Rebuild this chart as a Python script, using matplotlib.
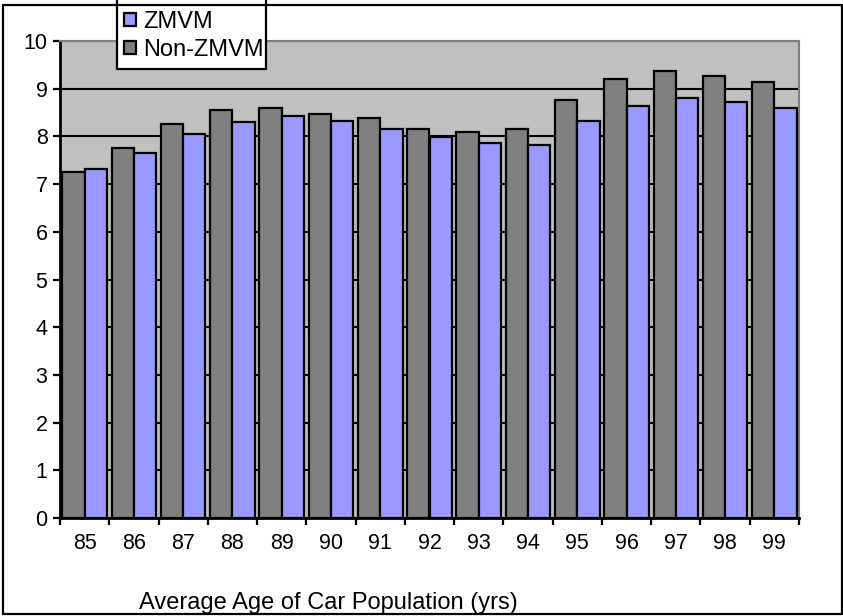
import matplotlib
matplotlib.use("Agg")
import matplotlib.pyplot as plt
from matplotlib.patches import Rectangle
import numpy as np

plt.rcParams['font.family'] = ['Liberation Sans', 'DejaVu Sans']

years = ["85", "86", "87", "88", "89", "90", "91", "92", "93", "94", "95", "96", "97", "98", "99"]
non_zmvm = [7.25, 7.75, 8.25, 8.55, 8.59, 8.48, 8.38, 8.15, 8.09, 8.15, 8.76, 9.20, 9.38, 9.27, 9.15]
zmvm = [7.31, 7.65, 8.04, 8.31, 8.42, 8.32, 8.15, 7.98, 7.86, 7.81, 8.32, 8.64, 8.81, 8.72, 8.60]
y_ticks = list(range(0, 11))
x_label = "Average Age of Car Population (yrs)"

W, H = 843, 616
fig = plt.figure(figsize=(W / 100, H / 100), dpi=100)
fig.patch.set_facecolor("white")

ax = fig.add_axes([60 / W, 1 - 518 / H, (799 - 60) / W, (518 - 41) / H])
ax.set_facecolor("#C0C0C0")

x = np.arange(len(years))
bw = 0.4525
ax.bar(x - bw / 2, non_zmvm, width=bw, color="#808080", edgecolor="black",
       linewidth=1.6, label="Non-ZMVM", zorder=3)
ax.bar(x + bw / 2, zmvm, width=bw, color="#9999FF", edgecolor="black",
       linewidth=1.6, label="ZMVM", zorder=3)

ax.set_xlim(-0.5, len(years) - 0.5)
ax.set_ylim(0, 10)
ax.set_yticks(y_ticks)
ax.yaxis.grid(True, color="black", linewidth=1.5, zorder=1)
ax.set_axisbelow(True)

# category boundary ticks (major) and labels at centres (minor)
ax.set_xticks(np.arange(-0.5, len(years), 1.0))
ax.set_xticklabels([])
ax.set_xticks(x, minor=True)
ax.set_xticklabels(years, minor=True)
ax.tick_params(axis="x", which="major", length=5, width=1.6, color="black", direction="out")
ax.tick_params(axis="x", which="minor", length=0, pad=11, labelsize=15.5)
ax.tick_params(axis="y", length=5, width=1.6, color="black", direction="out", pad=4, labelsize=15.5)

for s in ["left", "bottom"]:
    ax.spines[s].set_color("black")
    ax.spines[s].set_linewidth(2.0)
for s in ["top", "right"]:
    ax.spines[s].set_color("#808080")
    ax.spines[s].set_linewidth(1.5)

# legend box (top runs beyond figure edge)
fig.patches.append(Rectangle((117 / W, 1 - 69 / H), (266 - 117) / W, 80 / H,
                             transform=fig.transFigure, facecolor="white",
                             edgecolor="black", linewidth=1.6, zorder=5))
handles, labels = ax.get_legend_handles_labels()
leg = fig.legend([handles[1], handles[0]], [labels[1], labels[0]],
                 loc="upper left", bbox_to_anchor=(124 / W, 1 - 11 / H),
                 frameon=False, borderpad=0, borderaxespad=0,
                 handlelength=0.5, handleheight=0.5, handletextpad=0.3,
                 labelspacing=0.25, fontsize=17)
leg.set_zorder(6)

fig.text(328 / W, 1 - 609 / H, x_label, ha="center", va="baseline", fontsize=17)

# outer chart border
fig.patches.append(Rectangle((3 / W, 1 - 614 / H), (842 - 3) / W, (614 - 5) / H,
                             transform=fig.transFigure, fill=False,
                             edgecolor="black", linewidth=1.6, zorder=10))

fig.savefig("out.png", dpi=100)
